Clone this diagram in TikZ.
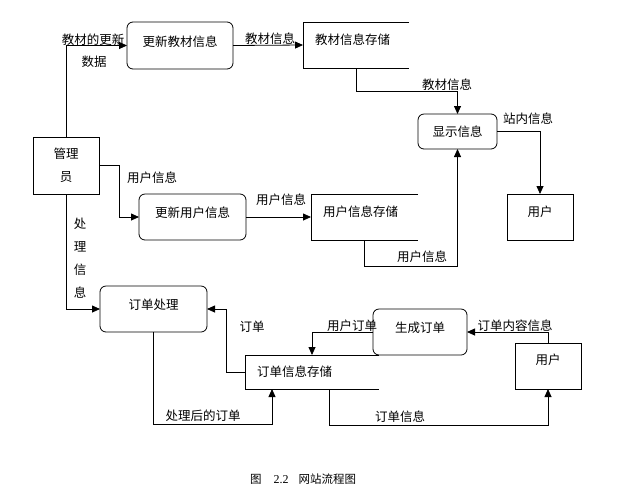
\documentclass[tikz,border=0pt]{standalone}
\usepackage{fontspec}
\setmainfont{Noto Sans CJK SC}
\newfontfamily\latinserif{Liberation Serif}
\usetikzlibrary{arrows.meta}
\begin{document}
\begin{tikzpicture}[x=1pt,y=-1pt,
  font=\fontsize{12.5}{15}\selectfont,
  every node/.style={inner sep=0pt, outer sep=0pt},
  line/.style={line width=0.8pt, draw=black},
  arr/.style={line, -{Triangle[length=8pt,width=7pt]}},
  proc/.style={draw, line width=0.8pt, rounded corners=6pt},
  ent/.style={draw, line width=0.8pt},
  store/.style={inner xsep=12pt, align=left},
  up/.style 2 args={text height=#1, text depth=#2},
  vtext/.style={align=center, font=\fontsize{12.5}{23}\selectfont}]

\useasboundingbox (0,0) rectangle (628,496);

% ---- boxes ----
\node[proc, minimum width=106pt, minimum height=47pt, up={6.1pt}{3.9pt}] (updjc) at (180,45.5) {更新教材信息};
\node[store, minimum width=106pt, minimum height=46pt, text width=82pt, up={4.6pt}{5.4pt}] (jcstore) at (356,45) {教材信息存储};
\draw[line] (jcstore.north east) -- (jcstore.north west) -- (jcstore.south west) -- (jcstore.south east);

\node[proc, minimum width=79pt, minimum height=35pt, up={9.6pt}{0.4pt}] (show) at (457.5,131.5) {显示信息};
\node[ent, minimum width=66pt, minimum height=46pt, up={4.6pt}{5.4pt}] (user1) at (540,217) {用户};

\node[store, minimum width=107pt, minimum height=46pt, text width=83pt, up={4.6pt}{5.4pt}] (usrstore) at (364.5,217) {用户信息存储};
\draw[line] (usrstore.north east) -- (usrstore.north west) -- (usrstore.south west) -- (usrstore.south east);

\node[proc, minimum width=107pt, minimum height=46pt, up={5.6pt}{4.4pt}] (updusr) at (192.5,217) {更新用户信息};
\node[ent, vtext, minimum width=66pt, minimum height=57pt] (admin) at (66,165.5) {管理\\员};

\node[proc, minimum width=107pt, minimum height=46pt, up={5.6pt}{4.4pt}] (oproc) at (153.5,309) {订单处理};
\node[store, minimum width=134pt, minimum height=34pt, text width=110pt] (ostore) at (312,372) {订单信息存储};
\draw[line] (ostore.north east) -- (ostore.north west) -- (ostore.south west) -- (ostore.south east);

\node[proc, fill=white, minimum width=94pt, minimum height=46pt, up={5.6pt}{4.4pt}] (gen) at (420,332) {生成订单};
\node[ent, minimum width=66pt, minimum height=46pt, up={3.6pt}{6.4pt}] (user2) at (548,366) {用户};

% ---- connectors ----
\draw[arr] (admin.north) |- (updjc.west);
\draw[arr] (updjc.east) -- (jcstore.west);
\draw[arr] (jcstore.south) -- ++(0,23) -| (show.north);
\draw[arr] (show.east) -| (user1.north);
\draw[arr] (usrstore.south) -- ++(0,26) -| (show.south);
\draw[arr] (admin.east) -- ++(20,0) |- (updusr.west);
\draw[arr] (updusr.east) -- (usrstore.west);
\draw[arr] (admin.south) |- (oproc.west);
\draw[arr] (ostore.west) -- ++(-19,0) |- (oproc.east);
\draw[arr] (oproc.south) -- ++(0,92) -| ([xshift=-40pt]ostore.south);
\draw[arr] ([xshift=17pt]ostore.south) -- ++(0,36) -| (user2.south);
\draw[arr] (user2.north) |- (gen.east);
\draw[arr] (gen.west) -| (ostore.north);

% ---- labels ----
\node (l1a) at (93,40) {教材的更新};
\node (l1b) at (94,62) {数据};
\node (l2) at (270,39) {教材信息};
\node (l3) at (447,85) {教材信息};
\node (l4) at (528,119) {站内信息};
\node (l5) at (422,257) {用户信息};
\node (l6) at (152,178) {用户信息};
\node (l7) at (281,200) {用户信息};
\node[vtext] (l8) at (80,258) {处\\理\\信\\息};
\node (l9) at (252,327) {订单};
\node (l10) at (203,416) {处理后的订单};
\node (l11) at (400,417) {订单信息};
\node (l12) at (515,326) {订单内容信息};
\node (l13) at (352,326) {用户订单};

% ---- caption ----
\node[font=\fontsize{11.5}{14}\selectfont] (cap) at (303,479) {图\hspace{12pt}{\latinserif\fontsize{12}{14}\selectfont 2.2}\hspace{10pt}网站流程图};
\end{tikzpicture}
\end{document}
